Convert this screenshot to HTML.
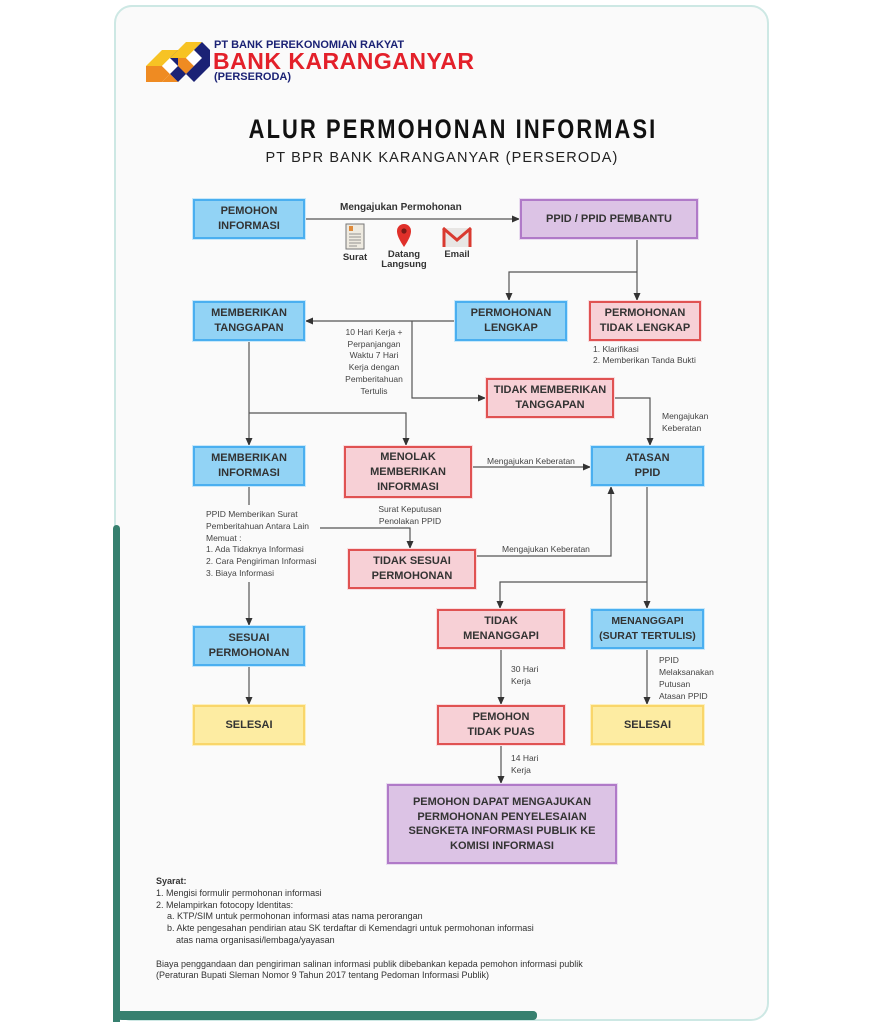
<!DOCTYPE html>
<html><head><meta charset="utf-8"><style>
*{margin:0;padding:0;box-sizing:border-box}
body{width:878px;height:1024px;background:#fff;position:relative;overflow:hidden;font-family:"Liberation Sans",sans-serif;color:#333}
.card{position:absolute;left:114px;top:5px;width:655px;height:1016px;background:#fafafa;border:2px solid #cde8e4;border-radius:18px}
.b{position:absolute;display:flex;align-items:center;justify-content:center;text-align:center;font-weight:bold;font-size:11px;line-height:15px;color:#333;border:2px solid;white-space:nowrap}
.bl{background:#92d3f5;border-color:#4aaff0;box-shadow:0 0 0 1px #c8e8fa}
.rd{background:#f7d0d6;border-color:#e05252;box-shadow:0 0 0 1px #f9dde0}
.pu{background:#dcc3e5;border-color:#b07ac8;box-shadow:0 0 0 1px #e9dcf0}
.ye{background:#fdeca2;border-color:#f9d66a;box-shadow:0 0 0 1px #fdf0c0}
.t{position:absolute;font-size:8.5px;line-height:12px;color:#444}
.c{text-align:center}
svg{position:absolute;left:0;top:0}
</style></head><body>
<div class="card"></div>
<div style="position:absolute;left:113px;top:525px;width:7px;height:497px;background:#37806f;border-radius:4px 4px 0 0"></div>
<div style="position:absolute;left:113px;top:1011px;width:424px;height:9px;background:#37806f;border-radius:0 5px 5px 12px"></div>

<svg width="878" height="1024">
 <g>
  <!-- left cube -->
  <polygon points="146,66 162,50 178,50 162,66" fill="#f7c324"/>
  <polygon points="146,66 162,66 170,74 162,82 146,82" fill="#ef8b22"/>
  <polygon points="162,66 170,58 178,66 170,74" fill="#fff"/>
  <polygon points="178,50 186,58 186,74 178,82 170,74 178,66 170,58" fill="#1b2275"/>
  <polygon points="162,82 170,74 178,82" fill="#ef8b22"/>
  <!-- right cube -->
  <polygon points="170,58 186,42 202,42 186,58" fill="#f7c324"/>
  <polygon points="178,58 186,58 194,66 186,74 178,66" fill="#ef8b22"/>
  <polygon points="186,58 194,50 202,58 194,66" fill="#fff"/>
  <polygon points="202,42 210,50 210,66 194,82 186,74 202,58 194,50" fill="#1b2275"/>
 </g>
 <defs><marker id="a" markerWidth="8" markerHeight="8" refX="7" refY="4" orient="auto" markerUnits="userSpaceOnUse"><path d="M0,0.5 L8,4 L0,7.5z" fill="#333"/></marker></defs>
 <g stroke="#555" stroke-width="1.2" fill="none">
  <path d="M305,219H519" marker-end="url(#a)"/>
  <path d="M637,239V300"  marker-end="url(#a)"/>
  <path d="M637,272H509V300" marker-end="url(#a)"/>
  <path d="M455,321H306" marker-end="url(#a)"/>
  <path d="M412,321V398H485" marker-end="url(#a)"/>
  <path d="M614,398H650V445" marker-end="url(#a)"/>
  <path d="M249,341V445" marker-end="url(#a)"/>
  <path d="M249,413H406V445" marker-end="url(#a)"/>
  <path d="M472,467H590" marker-end="url(#a)"/>
  <path d="M476,556H611V487" marker-end="url(#a)"/>
  <path d="M647,486V608" marker-end="url(#a)"/>
  <path d="M647,582H500V608" marker-end="url(#a)"/>
  <path d="M249,486V505"/>
  <path d="M249,582V625" marker-end="url(#a)"/>
  <path d="M320,528H410V548" marker-end="url(#a)"/>
  <path d="M249,666V704" marker-end="url(#a)"/>
  <path d="M501,649V704" marker-end="url(#a)"/>
  <path d="M501,745V783" marker-end="url(#a)"/>
  <path d="M647,649V704" marker-end="url(#a)"/>
 </g>
 <rect x="346" y="224" width="18" height="25" fill="#eeeae0" stroke="#777" stroke-width="1"/>
 <rect x="349" y="226" width="4" height="5" fill="#e08a3a"/>
 <g stroke="#777" stroke-width="0.8"><path d="M349,234h12M349,237h12M349,240h12M349,243h12M349,246h8"/></g>
 <path d="M404,247 C398,238 397,234 397,231 A7,7 0 0 1 411,231 C411,234 410,238 404,247Z" fill="#e0302a"/>
 <circle cx="404" cy="231" r="2.6" fill="#7a1a16"/>
 <rect x="443" y="228" width="28" height="19" fill="#e8e6e4"/>
 <path d="M443,228 L457,240 L471,228" fill="none" stroke="#d93a30" stroke-width="3"/>
 <path d="M444,229V247M470,229V247" stroke="#d93a30" stroke-width="3"/>
</svg>

<div style="position:absolute;left:214px;top:39px;font-weight:bold;font-size:11px;color:#1b2275">PT BANK PEREKONOMIAN RAKYAT</div>
<div style="position:absolute;left:213px;top:48px;font-weight:bold;font-size:23px;color:#e3202a;letter-spacing:0.5px">BANK KARANGANYAR</div>
<div style="position:absolute;left:214px;top:71px;font-weight:bold;font-size:11px;color:#1b2275">(PERSERODA)</div>

<div style="position:absolute;left:0;width:906px;top:114px;text-align:center;font-weight:bold;font-size:27px;letter-spacing:2.6px;color:#111;transform:scaleX(0.81);transform-origin:453px 0">ALUR PERMOHONAN INFORMASI</div>
<div style="position:absolute;left:0;width:878px;top:150px;text-align:center;font-size:14.5px;letter-spacing:1.1px;color:#222;padding-left:6px">PT BPR BANK KARANGANYAR (PERSERODA)</div>

<div class="b bl" style="left:193px;top:199px;width:112px;height:40px">PEMOHON<br>INFORMASI</div>
<div class="b pu" style="left:520px;top:199px;width:178px;height:40px">PPID / PPID PEMBANTU</div>
<div class="b bl" style="left:455px;top:301px;width:112px;height:40px">PERMOHONAN<br>LENGKAP</div>
<div class="b rd" style="left:589px;top:301px;width:112px;height:40px">PERMOHONAN<br>TIDAK LENGKAP</div>
<div class="b bl" style="left:193px;top:301px;width:112px;height:40px">MEMBERIKAN<br>TANGGAPAN</div>
<div class="b rd" style="left:486px;top:378px;width:128px;height:40px">TIDAK MEMBERIKAN<br>TANGGAPAN</div>
<div class="b bl" style="left:193px;top:446px;width:112px;height:40px">MEMBERIKAN<br>INFORMASI</div>
<div class="b rd" style="left:344px;top:446px;width:128px;height:52px">MENOLAK<br>MEMBERIKAN<br>INFORMASI</div>
<div class="b bl" style="left:591px;top:446px;width:113px;height:40px">ATASAN<br>PPID</div>
<div class="b rd" style="left:348px;top:549px;width:128px;height:40px">TIDAK SESUAI<br>PERMOHONAN</div>
<div class="b bl" style="left:193px;top:626px;width:112px;height:40px">SESUAI<br>PERMOHONAN</div>
<div class="b rd" style="left:437px;top:609px;width:128px;height:40px">TIDAK<br>MENANGGAPI</div>
<div class="b bl" style="left:591px;top:609px;width:113px;height:40px;font-size:10.5px">MENANGGAPI<br>(SURAT TERTULIS)</div>
<div class="b ye" style="left:193px;top:705px;width:112px;height:40px">SELESAI</div>
<div class="b rd" style="left:437px;top:705px;width:128px;height:40px">PEMOHON<br>TIDAK PUAS</div>
<div class="b ye" style="left:591px;top:705px;width:113px;height:40px">SELESAI</div>
<div class="b pu" style="left:387px;top:784px;width:230px;height:80px;line-height:14.5px">PEMOHON DAPAT MENGAJUKAN<br>PERMOHONAN PENYELESAIAN<br>SENGKETA INFORMASI PUBLIK KE<br>KOMISI INFORMASI</div>

<div class="t" style="left:340px;top:202px;font-weight:bold;font-size:10px;color:#333">Mengajukan Permohonan</div>
<div class="t c" style="left:338px;top:253px;width:34px;font-weight:bold;font-size:9.5px;line-height:10px;color:#333">Surat</div>
<div class="t c" style="left:378px;top:250px;width:52px;font-weight:bold;font-size:9.5px;line-height:10px;color:#333">Datang<br>Langsung</div>
<div class="t c" style="left:437px;top:250px;width:40px;font-weight:bold;font-size:9.5px;line-height:10px;color:#333">Email</div>
<div class="t" style="left:593px;top:344px;line-height:11px">1. Klarifikasi<br>2. Memberikan Tanda Bukti</div>
<div class="t c" style="left:338px;top:327px;width:72px;line-height:11.7px">10 Hari Kerja +<br>Perpanjangan<br>Waktu 7 Hari<br>Kerja dengan<br>Pemberitahuan<br>Tertulis</div>
<div class="t" style="left:662px;top:410px;line-height:12px">Mengajukan<br>Keberatan</div>
<div class="t" style="left:487px;top:455px">Mengajukan Keberatan</div>
<div class="t c" style="left:360px;top:503px;width:100px">Surat Keputusan<br>Penolakan PPID</div>
<div class="t" style="left:502px;top:543px">Mengajukan Keberatan</div>
<div class="t" style="left:206px;top:509px;line-height:11.8px">PPID Memberikan Surat<br>Pemberitahuan Antara Lain<br>Memuat :<br>1. Ada Tidaknya Informasi<br>2. Cara Pengiriman Informasi<br>3. Biaya Informasi</div>
<div class="t" style="left:511px;top:663px;line-height:12px">30 Hari<br>Kerja</div>
<div class="t" style="left:659px;top:654px;line-height:12px">PPID<br>Melaksanakan<br>Putusan<br>Atasan PPID</div>
<div class="t" style="left:511px;top:752px;line-height:12px">14 Hari<br>Kerja</div>

<div class="t" style="left:156px;top:876px;font-size:9px;line-height:11.8px;color:#333">
<b>Syarat:</b><br>1. Mengisi formulir permohonan informasi<br>2. Melampirkan fotocopy Identitas:<br>
<span style="padding-left:11px">a. KTP/SIM untuk permohonan informasi atas nama perorangan</span><br>
<span style="padding-left:11px">b. Akte pengesahan pendirian atau SK terdaftar di Kemendagri untuk permohonan informasi</span><br>
<span style="padding-left:20px">atas nama organisasi/lembaga/yayasan</span><br><br>
Biaya penggandaan dan pengiriman salinan informasi publik dibebankan kepada pemohon informasi publik<br>
(Peraturan Bupati Sleman Nomor 9 Tahun 2017 tentang Pedoman Informasi Publik)</div>
</body></html>
